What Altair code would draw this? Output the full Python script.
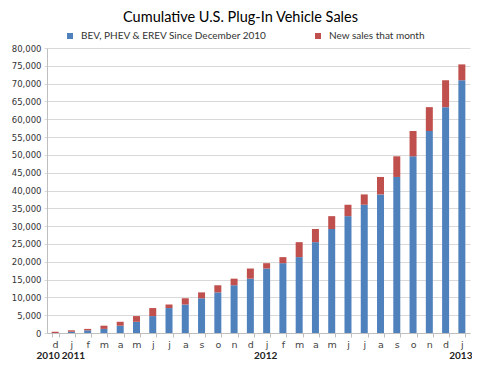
import altair as alt
import pandas as pd

keys = ["2010-12", "2011-01", "2011-02", "2011-03", "2011-04", "2011-05", "2011-06",
        "2011-07", "2011-08", "2011-09", "2011-10", "2011-11", "2011-12", "2012-01",
        "2012-02", "2012-03", "2012-04", "2012-05", "2012-06", "2012-07", "2012-08",
        "2012-09", "2012-10", "2012-11", "2012-12", "2013-01"]
letters = ["d", "j", "f", "m", "a", "m", "j", "j", "a", "s", "o", "n", "d",
           "j", "f", "m", "a", "m", "j", "j", "a", "s", "o", "n", "d", "j"]
cumulative = [0, 350, 750, 1150, 2050, 3150, 4750, 7000, 8000, 9750, 11400, 13400,
              15250, 18100, 19600, 21300, 25500, 29200, 32800, 36000, 38900, 43800,
              49600, 56700, 63400, 70950]
new_sales = [350, 400, 400, 900, 1100, 1600, 2250, 1000, 1750, 1650, 2000, 1850,
             2850, 1500, 1700, 4200, 3700, 3600, 3200, 2900, 4900, 5800, 7100, 6700,
             7550, 4450]
series = ["BEV, PHEV & EREV Since December 2010", "New sales that month"]
colors = ["#4f81bd", "#c0504d"]
years = ["2010", "2011", "2012", "2013"]
year_keys = ["2010-12", "2011-01", "2012-01", "2013-01"]

rows = []
for k, c, n in zip(keys, cumulative, new_sales):
    rows.append({"key": k, "series": series[0], "value": c, "ord": 0})
    rows.append({"key": k, "series": series[1], "value": n, "ord": 1})
df = pd.DataFrame(rows)

label_map = "{" + ",".join(f"'{k}':'{l}'" for k, l in zip(keys, letters)) + "}"

x_scale = alt.Scale(domain=keys, paddingInner=0.57, paddingOuter=0.285)

bars = alt.Chart(df).mark_bar().encode(
    x=alt.X("key:N", scale=x_scale, sort=keys, title=None,
            axis=alt.Axis(labelExpr=f"{label_map}[datum.value]", labelAngle=0,
                          tickBand="extent", tickSize=4, tickColor="#bfbfbf",
                          domainColor="#bfbfbf", labelFont="DejaVu Sans",
                          labelFontSize=9.5, labelColor="#444444", labelPadding=2,
                          grid=False)),
    y=alt.Y("value:Q", stack="zero", title=None,
            scale=alt.Scale(domain=[0, 80000]),
            axis=alt.Axis(values=list(range(0, 80001, 5000)), format=",d",
                          gridColor="#d9d9d9", domainColor="#bfbfbf", tickSize=3,
                          tickColor="#d9d9d9", labelFont="DejaVu Sans",
                          labelFontSize=8.5, labelColor="#333333", labelPadding=3)),
    color=alt.Color("series:N", scale=alt.Scale(domain=series, range=colors),
                    legend=alt.Legend(title=None, orient="none", direction="horizontal",
                                      legendX=18, legendY=-17, symbolType="square",
                                      symbolSize=36, symbolStrokeWidth=0,
                                      labelFont="Lato", labelFontSize=10,
                                      labelColor="#333333", columnPadding=46,
                                      labelOffset=6, padding=0, labelLimit=400)),
    order=alt.Order("ord:Q", sort="ascending"),
)

ydf = pd.DataFrame({"key": year_keys, "year": years})
year_style = dict(font="Lato", fontWeight="bold", fontSize=10, color="#222222",
                  baseline="middle")

def year_layer(sel, dx):
    return alt.Chart(ydf[ydf["year"].isin(sel)]).mark_text(dx=dx, **year_style).encode(
        x=alt.X("key:N", scale=x_scale, sort=keys),
        y=alt.value(308),
        text="year:N",
    )

chart = alt.layer(
    bars,
    year_layer(["2010"], -7),
    year_layer(["2011"], 2),
    year_layer(["2012"], -1),
    year_layer(["2013"], -1),
).properties(
    width=423, height=285,
    autosize=alt.AutoSizeParams(type="none"),
    padding={"left": 39, "top": 40, "right": 2, "bottom": 30},
    title=alt.TitleParams("Cumulative U.S. Plug-In Vehicle Sales", font="Lato",
                          fontSize=14.5, fontWeight="normal", color="#000000",
                          anchor="middle", dx=-18, offset=6),
).configure_view(stroke=None)

chart.save("out.html", embed_options={"renderer": "svg", "actions": False})
